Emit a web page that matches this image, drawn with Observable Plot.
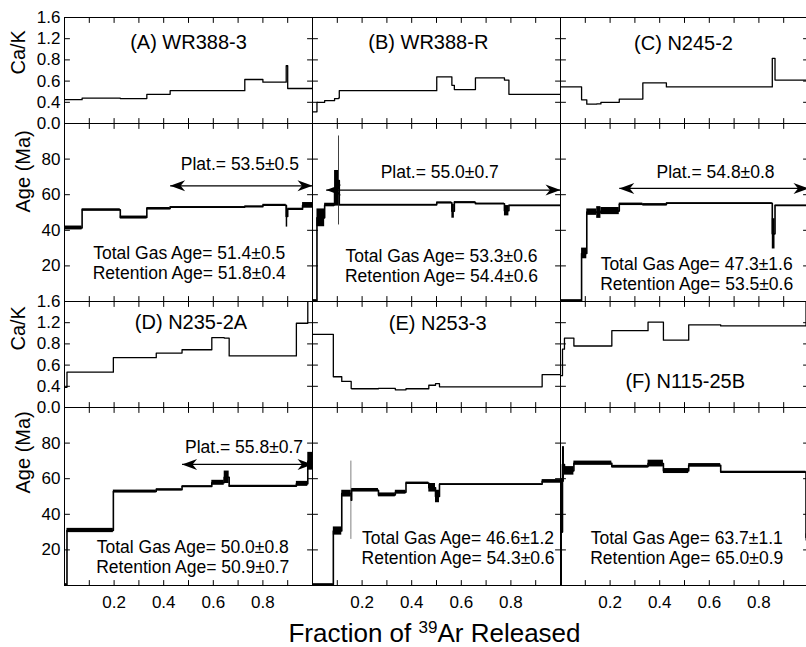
<!DOCTYPE html>
<html><head><meta charset="utf-8">
<script src="https://cdn.jsdelivr.net/npm/d3@7"></script>
<script src="https://cdn.jsdelivr.net/npm/@observablehq/plot@0.6"></script>
<style>
html,body{margin:0;padding:0;background:#fff;overflow:hidden}
#fig{position:relative;width:806px;height:647px;font-family:"Liberation Sans",Arial,Helvetica,sans-serif;color:#000}
#fig svg{position:absolute;left:0;overflow:visible !important;background:none}
</style></head>
<body><div id="fig"></div>
<script>
// ---- tick values ----
const cakTicks = [0, 0.4, 0.6, 0.8, 1.2, 1.6];
const ageTicks = [20, 40, 60, 80];
const fracLabels = [0.2, 0.4, 0.6, 0.8];
const fracMinor = [0.1, 0.2, 0.3, 0.4, 0.5, 0.6, 0.7, 0.8, 0.9];
const xTitle = ["Fraction of ", "39", "Ar Released"];

// ---- samples ----
const sampleNames = ["(A) WR388-3", "(B) WR388-R", "(C) N245-2", "(D) N235-2A", "(E) N253-3", "(F) N115-25B"];
const totalGas = ["51.4±0.5", "53.3±0.6", "47.3±1.6", "50.0±0.8", "46.6±1.2", "63.7±1.1"];
const retention = ["51.8±0.4", "54.4±0.6", "53.5±0.6", "50.9±0.7", "54.3±0.6", "65.0±0.9"];
const plateauAge = ["53.5±0.5", "55.0±0.7", "54.8±0.8", "55.8±0.7"];
const plateauFrom = [0.426, 0.055, 0.237, 0.474];

// age steps: [cumulative fraction at step end, age (Ma), error (Ma)]
const ageA = [[0.071,41.3,1.1],[0.225,51.5,0.6],[0.332,47.2,0.8],[0.426,52.2,0.6],[0.727,53.0,0.3],[0.800,53.3,0.4],[0.894,54.1,0.5],[0.900,47.8,6.0],[0.960,51.8,0.6],[1.000,54.0,1.6]];
const ageB = [[0.018,0.5,0.5],[0.049,47,5],[0.089,54.2,1],[0.105,63.6,10],[0.108,68,25],[0.501,54.3,0.3],[0.562,55.5,0.5],[0.572,50.7,3.9],[0.657,55.7,0.4],[0.774,54.9,0.4],[0.792,51,2.9],[1.000,53.9,0.3]];
const ageC = [[0.085,0.5,0.5],[0.106,27,3],[0.146,50.2,1.8],[0.163,50,3.3],[0.237,50.8,2],[0.332,54.6,0.7],[0.427,54.4,0.6],[0.854,55.2,0.3],[0.865,38,8.5],[1.000,53.9,0.3]];
const ageD = [[0.010,0.5,0.5],[0.197,30.9,1.2],[0.370,52.8,0.8],[0.474,53.8,0.6],[0.594,55.6,0.5],[0.644,57.7,1.4],[0.664,60.8,3.5],[0.935,55.8,0.5],[0.981,57.1,1.4],[1.000,69.8,5]];
const ageE = [[0.084,0.5,0.5],[0.118,30.6,2.3],[0.156,51.6,1.9],[0.158,47.9,22],[0.266,53.5,1],[0.334,50.9,1.1],[0.377,52.4,1.1],[0.469,57.5,0.6],[0.496,54.9,2.4],[0.512,50,3.5],[0.926,56.9,0.3],[1.000,58.5,1]];
const ageF = [[0.008,30,30],[0.016,68,10],[0.054,64.4,2.4],[0.207,68.7,1.2],[0.353,66.8,0.7],[0.415,68.5,1.9],[0.517,64.3,1.4],[0.646,67.5,1.0],[0.990,63.7,0.5],[1.000,27,2]];

// Ca/K steps: [cumulative fraction at step end, Ca/K]
const cakA = [[0.071,0.425],[0.225,0.44],[0.332,0.435],[0.426,0.475],[0.727,0.51],[0.800,0.615],[0.894,0.59],[0.900,0.745],[1.000,0.53]];
const cakB = [[0.018,0.22],[0.049,0.40],[0.089,0.415],[0.105,0.435],[0.108,0.44],[0.501,0.51],[0.562,0.64],[0.572,0.56],[0.657,0.52],[0.774,0.63],[0.792,0.61],[1.000,0.475]];
const cakC = [[0.085,0.545],[0.106,0.423],[0.146,0.365],[0.163,0.37],[0.237,0.40],[0.332,0.43],[0.427,0.584],[0.854,0.545],[0.865,0.83],[1.000,0.61]];
const cakD = [[0.010,0.38],[0.197,0.533],[0.370,0.67],[0.474,0.713],[0.594,0.745],[0.644,0.92],[0.664,0.91],[0.935,0.687],[0.981,1.19],[1.000,1.75]];
const cakE = [[0.084,0.98],[0.118,0.49],[0.156,0.446],[0.158,0.36],[0.266,0.354],[0.334,0.36],[0.377,0.334],[0.469,0.354],[0.496,0.41],[0.512,0.425],[0.926,0.39],[1.000,0.51]];
const cakF = [[0.008,0.5],[0.016,0.75],[0.054,0.91],[0.207,0.78],[0.353,1.05],[0.415,1.21],[0.517,0.87],[0.646,1.16],[0.990,1.14],[1.000,1.7]];

const ages = [ageA, ageB, ageC, ageD, ageE, ageF];
const caks = [cakA, cakB, cakC, cakD, cakE, cakF];

// annotation placement (fraction, data value)
const titlePos = [[0.50,1.125],[0.467,1.135],[0.496,1.10],[0.51,1.21],[0.505,1.19],[0.503,0.446]];
const platArrowY = [65, 62.6, 63.5, 68];
const platLabelPos = [[0.707,77],[0.513,72.8],[0.625,72.8],[0.724,77.8]];
const infoPos = [[0.503,22],[0.52,20],[0.549,15.8],[0.517,16.3],[0.587,21.5],[0.509,21.5]];

const FONT = '"Liberation Sans", Arial, Helvetica, sans-serif';
const W = 806, ML = 64, MR = -2;

// the Ca/K axis of the original is piecewise: equally spaced ticks 0, 0.4, 0.6, 0.8, 1.2, 1.6
const cakWarp = d3.scaleLinear().domain(cakTicks).range(cakTicks.map((_, i) => i));

function stepRows(arr, s) {
  let x0 = 0;
  return arr.map(([x1, v, e = 0]) => { const r = {col: s % 3, x0, x1, v, e}; x0 = x1; return r; });
}
function stepPts(rows) {
  return rows.flatMap(r => [{col: r.col, x: r.x0, y: r.v}, {col: r.col, x: r.x1, y: r.v}]);
}
const tickShape = {draw(ctx, l) { ctx.moveTo(0, 0); ctx.lineTo(0, -l); }};
const headR = {draw(ctx) { ctx.moveTo(0, 0); ctx.lineTo(-15, -5.5); ctx.lineTo(-10.5, 0); ctx.lineTo(-15, 5.5); ctx.closePath(); }};
const headL = {draw(ctx) { ctx.moveTo(0, 0); ctx.lineTo(15, -5.5); ctx.lineTo(10.5, 0); ctx.lineTo(15, 5.5); ctx.closePath(); }};
const vt = (data, o) => Plot.vector(data, {length: 5, anchor: "start", shape: tickShape, stroke: "black", strokeWidth: 1, ...o});

const fig = document.getElementById("fig");

function build(row, kind, top, height, marginTop, marginBottom, labelDx, labelDy) {
  const S = [0, 1, 2].map(c => row * 3 + c);
  const isCak = kind === "cak";
  const y = isCak
    ? {domain: [0, cakTicks.length - 1], transform: v => cakWarp(v), axis: null}
    : {domain: [0, 100], axis: null};
  const yT = isCak ? cakTicks : ageTicks;
  const yInner = isCak ? [0.4, 0.6, 0.8, 1.2] : ageTicks;
  const steps = S.flatMap(s => stepRows(isCak ? caks[s] : ages[s], s));
  const marks = [];
  if (!isCak) marks.push(Plot.rect(steps, {fx: "col", x1: "x0", x2: "x1", y1: d => d.v - d.e, y2: d => d.v + d.e, fill: "black", clip: true}));
  marks.push(Plot.line(stepPts(steps), {fx: "col", x: "x", y: "y", z: "col", stroke: "black", strokeWidth: isCak ? 1.3 : 1.6, clip: true}));
  marks.push(Plot.frame({stroke: "black", strokeWidth: 1}));
  marks.push(
    vt(fracMinor, {x: d => d, frameAnchor: "top", rotate: 180}),
    vt(fracMinor, {x: d => d, frameAnchor: "bottom", rotate: 0}),
    vt(yInner, {y: d => d, frameAnchor: "left", rotate: 90}),
    vt(yInner, {y: d => d, frameAnchor: "right", rotate: -90})
  );
  marks.push(Plot.axisY(yT, {anchor: "left", tickSize: 0, tickPadding: 4, fontSize: 17, label: null,
    tickFormat: isCak ? d3.format(".1f") : d3.format("d")}));
  marks.push(Plot.text([{col: 0}], {fx: "col", frameAnchor: "left", dx: labelDx, dy: labelDy, rotate: -90,
    text: () => isCak ? "Ca/K" : "Age (Ma)", fontSize: 20}));
  if (isCak) {
    const titles = S.map(s => ({col: s % 3, x: titlePos[s][0], y: titlePos[s][1], t: sampleNames[s]}));
    marks.push(Plot.text(titles, {fx: "col", x: "x", y: "y", text: "t", fontSize: 20}));
  } else {
    const plats = S.filter(s => s < plateauAge.length).map(s => ({col: s % 3, x1: plateauFrom[s], x2: 1, y: platArrowY[s],
      lx: platLabelPos[s][0], ly: platLabelPos[s][1], t: "Plat.= " + plateauAge[s]}));
    marks.push(
      Plot.link(plats, {fx: "col", x1: "x1", x2: "x2", y1: "y", y2: "y", stroke: "black", strokeWidth: 1.2}),
      Plot.dot(plats, {fx: "col", x: "x2", y: "y", symbol: headR, fill: "black", stroke: "none"}),
      Plot.dot(plats, {fx: "col", x: "x1", y: "y", symbol: headL, fill: "black", stroke: "none"}),
      Plot.text(plats, {fx: "col", x: "lx", y: "ly", text: "t", fontSize: 17.5})
    );
    const info = S.map(s => ({col: s % 3, x: infoPos[s][0], y: infoPos[s][1],
      t: "Total Gas Age= " + totalGas[s] + "\nRetention Age= " + retention[s]}));
    marks.push(Plot.text(info, {fx: "col", x: "x", y: "y", text: "t", fontSize: 17.5, lineHeight: 1.15}));
    if (row === 1) {
      marks.push(Plot.axisX(fracLabels, {anchor: "bottom", tickSize: 0, tickPadding: 10, fontSize: 17,
        label: null, tickFormat: d3.format(".1f")}));
      marks.push(Plot.text([{col: 1}], {fx: "col", frameAnchor: "bottom", dx: -2, dy: 56,
        text: () => xTitle.join(""), fontSize: 26}));
    }
  }
  const svg = Plot.plot({
    width: W, height, marginTop, marginBottom, marginLeft: ML, marginRight: MR,
    style: {fontFamily: FONT, overflow: "visible", background: "none", color: "black"},
    fx: {domain: [0, 1, 2], padding: 0, axis: null},
    x: {domain: [0, 1], axis: null},
    y,
    marks
  });
  // render the isotope mass number as a superscript
  const t = Array.from(svg.querySelectorAll("text")).find(el => el.textContent === xTitle.join(""));
  if (t) {
    t.textContent = "";
    const ns = "http://www.w3.org/2000/svg";
    const a = document.createElementNS(ns, "tspan"); a.textContent = xTitle[0];
    const b = document.createElementNS(ns, "tspan"); b.textContent = xTitle[1];
    b.setAttribute("font-size", "17"); b.setAttribute("dy", "-9");
    const c = document.createElementNS(ns, "tspan"); c.textContent = xTitle[2]; c.setAttribute("dy", "9");
    t.append(a, b, c);
  }
  svg.style.top = top + "px";
  fig.appendChild(svg);
}

build(0, "cak", 0, 123, 17, 0, -45.5, 4);
build(0, "age", 123, 178, 0, 0, -40.5, 0);
build(1, "cak", 301, 106, 0, 0, -45.5, -4);
build(1, "age", 407, 240, 0, 62, -40.5, -3);
</script></body></html>
